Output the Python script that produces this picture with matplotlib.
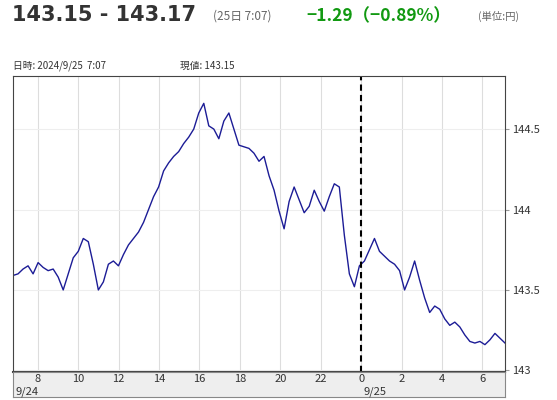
import numpy as np
import matplotlib
matplotlib.use("Agg")
import matplotlib.pyplot as plt

plt.rcParams['font.family'] = ['Noto Sans CJK JP', 'DejaVu Sans']

prices = [143.59,143.60,143.63,143.65,143.60,143.67,143.64,143.62,143.63,143.58,143.50,143.60,143.70,143.74,143.82,143.80,143.66,143.50,143.55,143.66,
143.68,143.65,143.72,143.78,143.82,143.86,143.92,144.00,144.08,144.14,144.24,144.29,144.33,144.36,144.41,144.45,144.50,144.60,144.66,144.52,
144.50,144.44,144.55,144.60,144.50,144.40,144.39,144.38,144.35,144.30,144.33,144.21,144.12,143.99,143.88,144.05,144.14,144.06,143.98,144.02,
144.12,144.05,143.99,144.08,144.16,144.14,143.84,143.60,143.52,143.65,143.68,143.75,143.82,143.74,143.71,143.68,143.66,143.62,143.50,143.58,
143.68,143.56,143.45,143.36,143.40,143.38,143.32,143.28,143.30,143.27,143.22,143.18,143.17,143.18,143.16,143.19,143.23,143.20,143.17]
t_start, t_end = -17.23, 7.12  # hours relative to 9/25 0:00
times = np.linspace(t_start, t_end, len(prices))

hour_ticks = [-16, -14, -12, -10, -8, -6, -4, -2, 0, 2, 4, 6]
hour_labels = ["8", "10", "12", "14", "16", "18", "20", "22", "0", "2", "4", "6"]
y_ticks = [143, 143.5, 144, 144.5]
y_labels = ["143", "143.5", "144", "144.5"]

fig = plt.figure(figsize=(5.57, 4.0), dpi=100)
L, R = 13/557, 505/557
ax = fig.add_axes([L, 28/400, R-L, 296/400])
ax.plot(times, prices, color="#1c1c96", lw=1.0)
ax.set_xlim(t_start, t_end)
ax.set_ylim(142.99, 144.83)
ax.set_xticks(hour_ticks)
ax.set_xticklabels([])
ax.tick_params(axis='x', length=0)
ax.grid(axis='x', color="#dddddd", lw=0.8)
ax.grid(axis='y', color="#eeeeee", lw=0.8)
ax.set_axisbelow(True)
ax.yaxis.tick_right()
ax.set_yticks(y_ticks)
ax.set_yticklabels(y_labels, fontsize=8, color="#333333")
ax.tick_params(axis='y', length=3, color="#999999", pad=2)
ax.axvline(0, color="black", ls=(0, (3, 2)), lw=1.5)
for s in ax.spines.values():
    s.set_color("#444444"); s.set_linewidth(0.8)
ax.spines['bottom'].set_linewidth(1.5)

axb = fig.add_axes([L, 3/400, R-L, 25/400])
axb.set_facecolor("#eeeeee")
axb.set_xlim(t_start, t_end); axb.set_ylim(0, 1)
axb.set_xticks([]); axb.set_yticks([])
for s in axb.spines.values():
    s.set_color("#888888"); s.set_linewidth(0.8)
for h, lab in zip(hour_ticks, hour_labels):
    axb.text(h, 0.72, lab, ha='center', va='center', fontsize=8, color="#333333")
axb.text(-17.1, 0.22, "9/24", ha='left', va='center', fontsize=8, color="#333333")
axb.text(0.1, 0.22, "9/25", ha='left', va='center', fontsize=8, color="#333333")

fig.text(12/557, 1-15/400, "143.15 - 143.17", fontsize=15, fontweight='bold', color="#333333", va='center', family=['DejaVu Sans'])
fig.text(213/557, 1-16/400, "(25日 7:07)", fontsize=8.5, color="#666666", va='center')
fig.text(306/557, 1-16/400, "−1.29（−0.89%）", fontsize=12.5, fontweight='bold', color="#119911", va='center')
fig.text(478/557, 1-16/400, "(単位:円)", fontsize=7.5, color="#666666", va='center')
fig.text(13/557, 1-66/400, "日時: 2024/9/25  7:07", fontsize=7, color="#333333", va='center')
fig.text(180/557, 1-66/400, "現値: 143.15", fontsize=7, color="#333333", va='center')

fig.savefig("out.png", dpi=100)
